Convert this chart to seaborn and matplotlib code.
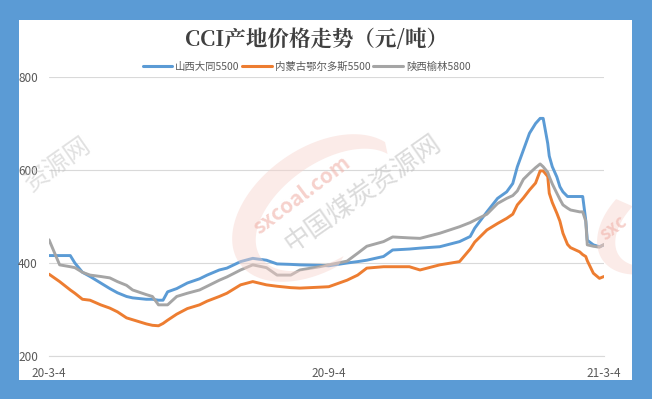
import numpy as np
import pandas as pd
import seaborn as sns
import matplotlib.pyplot as plt
from matplotlib.patches import Rectangle, Polygon
from matplotlib.transforms import IdentityTransform

dates = ["2020-03-04", "2020-03-11", "2020-03-18", "2020-03-21", "2020-03-26", "2020-03-31",
         "2020-04-07", "2020-04-13", "2020-04-18", "2020-04-24", "2020-04-28", "2020-05-07",
         "2020-05-11", "2020-05-15", "2020-05-18", "2020-05-21", "2020-05-27", "2020-06-03",
         "2020-06-11", "2020-06-16", "2020-06-24", "2020-06-29", "2020-07-08", "2020-07-16",
         "2020-07-25", "2020-08-01", "2020-08-10", "2020-08-16", "2020-08-29", "2020-09-04",
         "2020-09-16", "2020-09-23", "2020-09-29", "2020-10-10", "2020-10-16", "2020-10-27",
         "2020-11-03", "2020-11-16", "2020-11-29", "2020-12-06", "2020-12-09", "2020-12-17",
         "2020-12-24", "2020-12-30", "2021-01-03", "2021-01-06", "2021-01-10", "2021-01-14",
         "2021-01-18", "2021-01-21", "2021-01-23", "2021-01-26", "2021-01-27", "2021-01-29",
         "2021-02-01", "2021-02-03", "2021-02-05", "2021-02-08", "2021-02-10", "2021-02-16",
         "2021-02-18", "2021-02-20", "2021-02-21", "2021-02-25", "2021-03-01", "2021-03-04"]

datong = [416, 416, 416, 400, 380, 371, 357, 345, 336, 328, 325, 322,
          322, 320, 320, 338, 345, 357, 366, 374, 385, 389, 403, 410,
          406, 398, 397, 396, 395, 394, 400, 403, 406, 414, 428, 430,
          432, 435, 446, 457, 475, 510, 539, 553, 571, 607, 643, 679,
          700, 711, 711, 657, 630, 607, 585, 564, 553, 543, 543, 543,
          543, 492, 449, 439, 435, 439]

ordos = [376, 360, 342, 335, 322, 320, 310, 303, 295, 282, 278, 269,
         266, 265, 270, 277, 290, 302, 310, 318, 328, 335, 353, 360,
         353, 350, 347, 346, 348, 349, 363, 374, 389, 392, 392, 392,
         385, 396, 403, 430, 445, 471, 485, 496, 505, 525, 540, 557,
         572, 598, 598, 586, 550, 530, 507, 490, 464, 440, 433, 424,
         418, 414, 405, 378, 367, 371]

yulin = [450, 396, 392, 390, 380, 374, 371, 368, 360, 352, 342, 332,
         328, 310, 310, 310, 328, 335, 342, 350, 363, 370, 385, 396,
         390, 374, 374, 385, 392, 396, 404, 421, 436, 446, 456, 454,
         453, 464, 478, 487, 492, 505, 528, 539, 545, 555, 580, 593,
         605, 613, 607, 595, 586, 570, 550, 537, 525, 518, 514, 510,
         510, 490, 439, 436, 434, 440]

series_names = ["山西大同5500", "内蒙古鄂尔多斯5500", "陕西榆林5800"]
colors = ["#5B9BD5", "#ED7D31", "#A5A5A5"]
tick_dates = ["2020-03-04", "2020-09-04", "2021-03-04"]
tick_labels = ["20-3-4", "20-9-4", "21-3-4"]

df = pd.DataFrame({"date": pd.to_datetime(dates),
                   series_names[0]: datong,
                   series_names[1]: ordos,
                   series_names[2]: yulin})
long_df = df.melt(id_vars="date", var_name="产地", value_name="价格")

sns.set_style("white")
plt.rcParams['font.family'] = ['Noto Sans CJK SC', 'DejaVu Sans']

W, H = 652, 399
fig = plt.figure(figsize=(W / 100, H / 100), dpi=100)
fig.patch.set_facecolor("#5B9BD5")
# white chart panel
panel = Rectangle((19 / W, 1 - 380 / H), 613 / W, 360 / H,
                  transform=fig.transFigure, facecolor="white", edgecolor="none", zorder=0)
fig.add_artist(panel)


def crescent(cx, cy, a, b, ang, t1, t2, shift):
    # watermark swoosh, in pixel coords (y measured from top)
    t = np.radians(np.linspace(t1, t2, 80))
    r = np.radians(ang)
    ox, oy = a * np.cos(t), b * np.sin(t)
    ix, iy = (a - shift) * np.cos(t[::-1]) + shift * 0.6, (b - shift) * np.sin(t[::-1]) + shift * 0.6
    xs = np.concatenate([ox, ix])
    ys = np.concatenate([oy, iy])
    px = cx + xs * np.cos(r) - ys * np.sin(r)
    py = cy + xs * np.sin(r) + ys * np.cos(r)
    return np.column_stack([px, H - py])


for poly in [crescent(318, 208, 96, 60, -35, 100, 345, 13),
             crescent(660, 220, 70, 45, -35, 110, 250, 10)]:
    p = Polygon(poly, closed=True, transform=IdentityTransform(), facecolor="#f7d3cc",
                edgecolor="none", alpha=0.45, zorder=0.5)
    fig.add_artist(p)
    p.set_clip_path(panel)

fig.text(302 / W, 1 - 195 / H, "sxcoal.com", rotation=37, fontsize=15, fontweight="bold",
         color="#f0b3aa", alpha=0.6, ha="center", va="center", zorder=0.6)
fig.text(363 / W, 1 - 193 / H, "中国煤炭资源网", rotation=35, fontsize=19,
         color="#c4c4c4", alpha=0.6, ha="center", va="center", zorder=0.6)
fig.text(58 / W, 1 - 165 / H, "资源网", rotation=35, fontsize=18,
         color="#c4c4c4", alpha=0.5, ha="center", va="center", zorder=0.6)
fig.text(614 / W, 1 - 228 / H, "sxc", rotation=37, fontsize=13, fontweight="bold",
         color="#f0b3aa", alpha=0.6, ha="center", va="center", zorder=0.6)

ax = fig.add_axes([49 / W, 1 - 356 / H, 555 / W, 279 / H])
ax.set_facecolor("none")

sns.lineplot(data=long_df, x="date", y="价格", hue="产地", palette=colors,
             linewidth=2.1, ax=ax, legend=False, zorder=3)

ax.set_xlim(pd.Timestamp(tick_dates[0]), pd.Timestamp(tick_dates[-1]))
ax.set_ylim(200, 800)
ax.set_yticks([200, 400, 600, 800])
ax.set_xticks(pd.to_datetime(tick_dates))
ax.set_xticklabels(tick_labels)
ax.yaxis.grid(True, color="#d9d9d9", linewidth=0.8)
ax.set_xlabel("")
ax.set_ylabel("")
for s in ["top", "right", "left"]:
    ax.spines[s].set_visible(False)
ax.spines["bottom"].set_color("#d9d9d9")
ax.tick_params(axis="x", length=3, color="#d9d9d9", labelsize=8.5, labelcolor="#595959", pad=5)
ax.tick_params(axis="y", length=0, labelsize=8.5, labelcolor="#595959", pad=8)

# legend
handles = [plt.Line2D([], [], color=c, linewidth=2.2) for c in colors]
fig.legend(handles, series_names, loc="center", bbox_to_anchor=(0.47, 1 - 67 / H), ncol=3,
           frameon=False, fontsize=7.5, handlelength=2.8, handletextpad=0.3, columnspacing=0.3,
           labelcolor="#595959")

fig.text(0.485, 1 - 40 / H, "CCI产地价格走势（元/吨）", ha="center", va="center",
         fontsize=15.5, fontweight="bold", color="#404040",
         family=["Noto Serif CJK SC", "Noto Sans CJK SC", "DejaVu Sans"])

fig.savefig("out.png", dpi=100)
